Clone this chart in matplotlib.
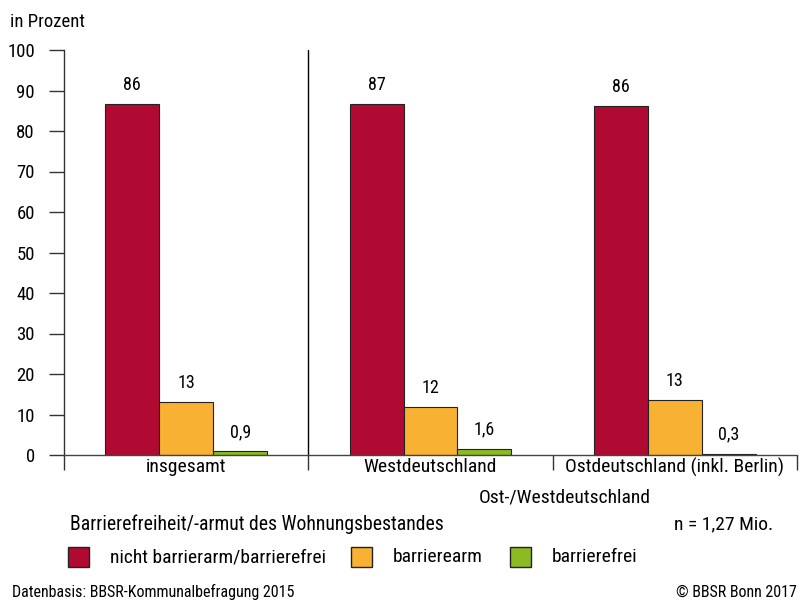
import matplotlib.pyplot as plt
from matplotlib.patches import Rectangle
import numpy as np

plt.rcParams['font.family'] = ['Roboto Condensed', 'DejaVu Sans']

# Daten
gruppen = ["insgesamt", "Westdeutschland", "Ostdeutschland (inkl. Berlin)"]
serien = ["nicht barrierarm/barrierefrei", "barrierearm", "barrierefrei"]
nicht_barrierearm = [86.6, 86.7, 86.2]
barrierearm = [13.1, 11.9, 13.6]
barrierefrei = [0.9, 1.6, 0.3]
labels_nicht = ["86", "87", "86"]
labels_arm = ["13", "12", "13"]
labels_frei = ["0,9", "1,6", "0,3"]
farben = ["#B10A32", "#F8B133", "#8DBA22"]

fig = plt.figure(figsize=(8.08, 6.01), dpi=100)
ax = fig.add_axes([64/808, 1-455/601, (797-64)/808, (455-50)/601])

x = np.arange(len(gruppen)) + 0.5
w = 0.221
werte = [nicht_barrierearm, barrierearm, barrierefrei]
beschr = [labels_nicht, labels_arm, labels_frei]
for i in range(3):
    pos = x + (i - 1) * w
    ax.bar(pos, werte[i], width=w, color=farben[i], edgecolor="#222222", linewidth=0.8)
    for px, v, t in zip(pos, werte[i], beschr[i]):
        ax.text(px, v + 2.5, t, ha="center", va="bottom", fontsize=13)

ax.set_xlim(0, 3)
ax.set_ylim(0, 100)
ax.set_yticks(range(0, 101, 10))
ax.tick_params(axis="y", length=11, width=1, labelsize=13.5, pad=10, color="#333333")
ax.set_xticks([0, 1, 2, 3])
ax.set_xticklabels([])
ax.tick_params(axis="x", which="major", length=11, width=1, color="#333333")
ax.set_xticks(x, minor=True)
ax.set_xticklabels(gruppen, minor=True, fontsize=14)
ax.tick_params(axis="x", which="minor", length=0, pad=2)
for s in ["top", "right"]:
    ax.spines[s].set_visible(False)
ax.spines["left"].set_linewidth(1)
ax.spines["left"].set_color("#333333")
ax.spines["bottom"].set_linewidth(1)
ax.spines["bottom"].set_color("#444444")
ax.axvline(1, color="black", linewidth=1)

fig.text(10/808, 1-22/601, "in Prozent", fontsize=13.5, va="center")
fig.text(565/808, 1-498/601, "Ost-/Westdeutschland", fontsize=14, ha="center", va="center")
fig.text(70/808, 1-524/601, "Barrierefreiheit/-armut des Wohnungsbestandes", fontsize=14.2, va="center")
fig.text(773/808, 1-524/601, "n = 1,27 Mio.", fontsize=14, ha="right", va="center")

leg_x = [68, 351, 510]
for lx, f, s in zip(leg_x, farben, serien):
    fig.patches.append(Rectangle((lx/808, 1-567/601), 21/808, 20/601, transform=fig.transFigure,
                                 facecolor=f, edgecolor="#222222", linewidth=1))
    fig.text((lx+42)/808, 1-557/601, s, fontsize=14, va="center")

fig.text(12/808, 1-592/601, "Datenbasis: BBSR-Kommunalbefragung 2015", fontsize=11.5, va="center")
fig.text(797/808, 1-592/601, "© BBSR Bonn 2017", fontsize=11.5, ha="right", va="center")

fig.savefig("out.png", dpi=100)
